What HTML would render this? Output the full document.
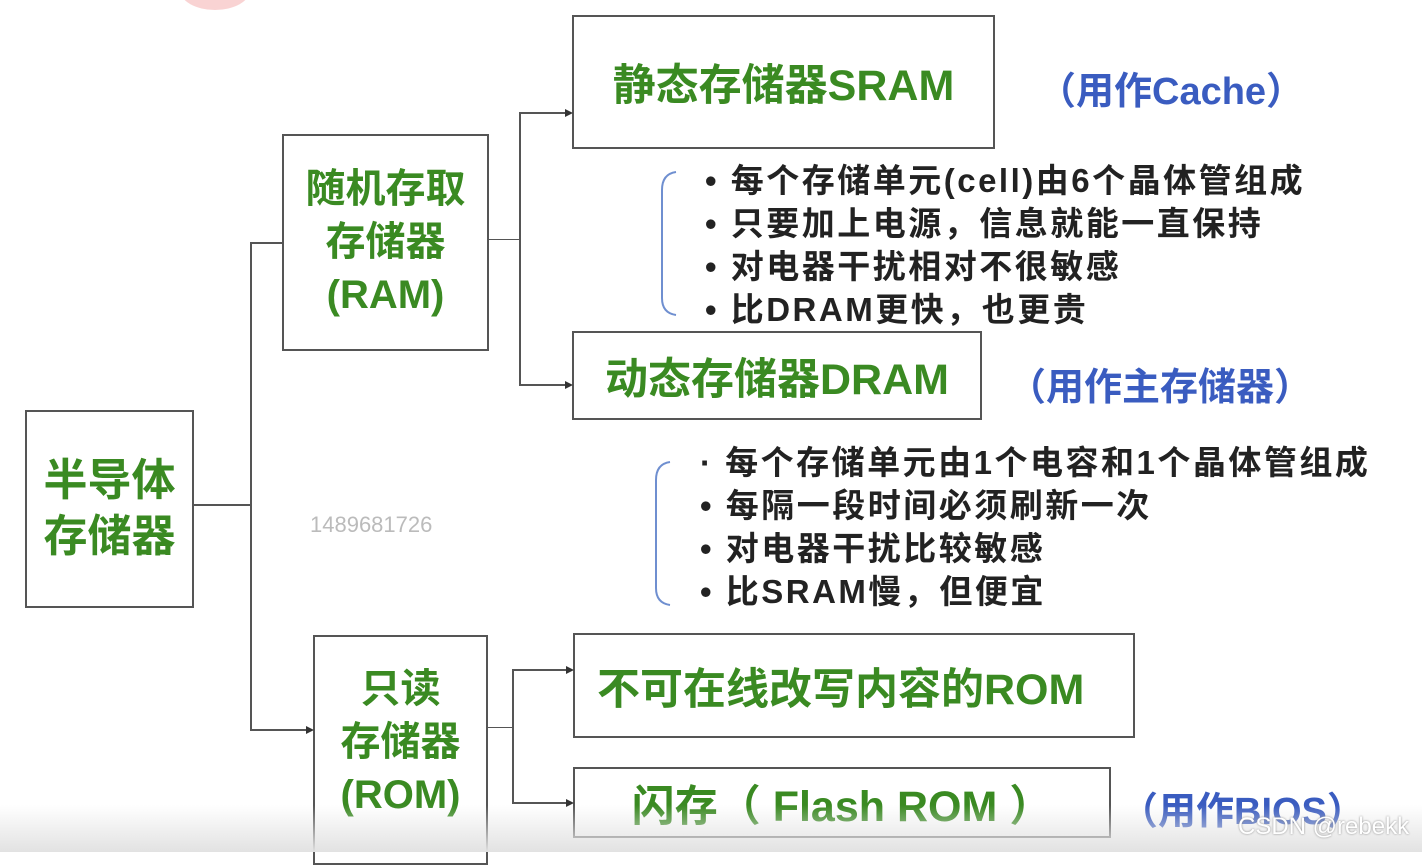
<!DOCTYPE html>
<html><head><meta charset="utf-8"><style>
body{margin:0;width:1422px;height:852px;position:relative;overflow:hidden;background:#fff;font-family:"Liberation Sans","Noto Sans CJK SC",sans-serif;}
.b{position:absolute;border:2px solid #555;box-sizing:border-box;display:flex;align-items:center;justify-content:center;text-align:center;color:#3a8a22;font-weight:bold;}
.l{position:absolute;background:#555;}
.t{position:absolute;white-space:nowrap;}
.bl{color:#3a5cc0;font-weight:bold;font-size:38px;}
.bu{color:#222;font-weight:bold;font-size:33px;letter-spacing:2.5px;line-height:43px;}
.ar{position:absolute;width:0;height:0;border-top:4px solid transparent;border-bottom:4px solid transparent;border-left:8px solid #333;}
</style></head><body>
<div style="position:absolute;left:180px;top:-30px;width:70px;height:40px;border-radius:50%;background:#f5b5b5;opacity:.6"></div>
<div class="b" style="left:25px;top:410px;width:169px;height:198px;font-size:44px;line-height:56px">半导体<br>存储器</div>
<div class="b" style="left:282px;top:134px;width:207px;height:217px;font-size:40px;line-height:53px">随机存取<br>存储器<br>(RAM)</div>
<div class="b" style="left:313px;top:635px;width:175px;height:230px;font-size:40px;line-height:53px;align-items:flex-start;padding-top:26px">只读<br>存储器<br>(ROM)</div>
<div class="b" style="left:572px;top:15px;width:423px;height:134px;font-size:43px">静态存储器SRAM</div>
<div class="b" style="left:572px;top:331px;width:410px;height:89px;font-size:43px">动态存储器DRAM</div>
<div class="b" style="left:573px;top:633px;width:562px;height:105px;font-size:43px;justify-content:flex-start;padding-left:22px">不可在线改写内容的ROM</div>
<div class="b" style="left:573px;top:767px;width:538px;height:71px;font-size:43px">闪存（ Flash ROM ）</div>

<div class="l" style="left:193px;top:504px;width:58px;height:2px"></div>
<div class="l" style="left:250px;top:242px;width:2px;height:489px"></div>
<div class="l" style="left:250px;top:242px;width:32px;height:2px"></div>
<div class="l" style="left:250px;top:729px;width:60px;height:2px"></div><div class="ar" style="left:306px;top:726px"></div>
<div class="l" style="left:488px;top:239px;width:32px;height:1px"></div>
<div class="l" style="left:519px;top:112px;width:2px;height:274px"></div>
<div class="l" style="left:519px;top:112px;width:48px;height:2px"></div><div class="ar" style="left:565px;top:109px"></div>
<div class="l" style="left:519px;top:384px;width:48px;height:2px"></div><div class="ar" style="left:565px;top:381px"></div>
<div class="l" style="left:487px;top:727px;width:26px;height:1px"></div>
<div class="l" style="left:512px;top:669px;width:2px;height:135px"></div>
<div class="l" style="left:512px;top:669px;width:55px;height:2px"></div><div class="ar" style="left:566px;top:666px"></div>
<div class="l" style="left:512px;top:802px;width:55px;height:2px"></div><div class="ar" style="left:566px;top:799px"></div>

<svg style="position:absolute;left:0;top:0" width="1422" height="852"><g fill="none" stroke="#6f8fd0" stroke-width="2">
<path d="M676 172 Q662 174 662 190 L662 298 Q662 313 676 315"/>
<path d="M670 462 Q656 464 656 480 L656 588 Q656 603 670 605"/></g></svg>

<div class="t bl" style="left:1038px;top:60px">（用作Cache）</div>
<div class="t bl" style="left:1008px;top:356px">（用作主存储器）</div>
<div class="t bl" style="left:1120px;top:780px">（用作BIOS）</div>

<div class="t bu" style="left:705px;top:159px">• 每个存储单元(cell)由6个晶体管组成<br>• 只要加上电源，信息就能一直保持<br>• 对电器干扰相对不很敏感<br>• 比DRAM更快，也更贵</div>
<div class="t bu" style="left:700px;top:441px">· 每个存储单元由1个电容和1个晶体管组成<br>• 每隔一段时间必须刷新一次<br>• 对电器干扰比较敏感<br>• 比SRAM慢，但便宜</div>
<div class="t" style="left:310px;top:512px;color:#bbb;font-size:22px">1489681726</div>
<div style="position:absolute;left:0;top:805px;width:1422px;height:47px;background:linear-gradient(#fff0,#e2e2e2);pointer-events:none"></div>
<div class="t" style="left:1238px;top:813px;color:#fff;font-size:24px;text-shadow:0 0 2px #888">CSDN @rebekk</div>
</body></html>
